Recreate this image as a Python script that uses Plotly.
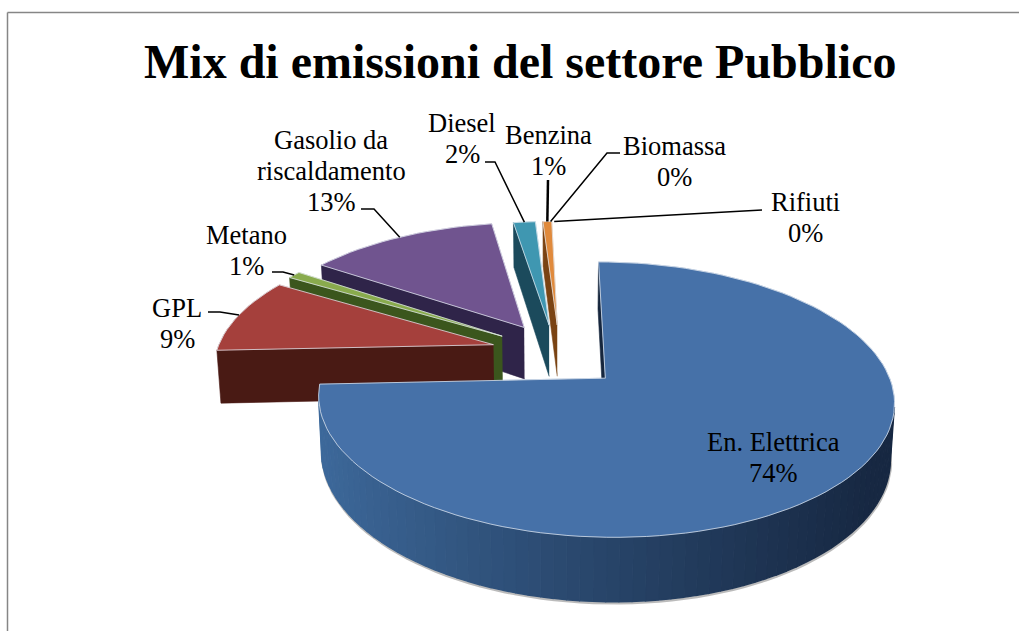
import numpy as np
import plotly.graph_objects as go

# ---- data ----
categories = [["En. Elettrica"], ["GPL"], ["Metano"], ["Gasolio da", "riscaldamento"],
              ["Diesel"], ["Benzina"], ["Biomassa"], ["Rifiuti"]]
values = [74.3, 9.3, 0.9, 13.0, 1.5, 0.6, 0.2, 0.2]
top_colors = ["#4671a8", "#a5403c", "#89ab4d", "#70548f", "#3f97b1", "#e08a3c", "#a5403c", "#4671a8"]
wall_colors = ["#2c4c75", "#491a14", "#3b561d", "#2f2449", "#1b4a5c", "#7a4313", "#491a14", "#2c4c75"]
explode = [0.245, 0.235, 0.235, 0.235, 0.235, 0.235, 0.235, 0.235]
nudge_x = [-1, 0, 0, 2, 0, 4, 0, 0]
nudge_y = [4, 0, 0, 0, 2, 2, 2, 2]
MIN_DRAWN = 0.5  # slices below this share are invisible in the chart

# label centres and leader elbows (layout, in page pixels)
label_pos = [(773, 457), (177, 323), (246, 250), (331, 171), (462, 138), (548, 150), (674, 161), (805, 217)]
leader_start = [None, (208, 312), (272, 272), (361, 209), (485, 162), (548, 180), (620, 153), (762, 210)]
leader_elbow = [None, (220, 312), (283, 272), (374, 209), (495, 162), None, (607, 153), None]
LINE_GAP = 31

# ---- projection ----
CX, CY, R, RS, K, H, TAPER = 556, 352, 277, 127.5, 0.152, 53, 0.012


def project(u, v, z=0.0):
    d = 1 + K * v
    return CX + R * u / d * (1 - TAPER * z), CY - (RS * v - H * z) / d


def area(xs, ys):
    return 0.5 * sum(xs[i] * ys[(i + 1) % len(xs)] - xs[(i + 1) % len(xs)] * ys[i] for i in range(len(xs)))


def mix(a, b, t):
    return "rgb(%d,%d,%d)" % tuple(a[i] + (b[i] - a[i]) * t for i in range(3))


fig = go.Figure()


def poly(xs, ys, color, line=None, width=1.4):
    fig.add_trace(go.Scatter(x=list(xs), y=list(ys), mode="lines", fill="toself", fillcolor=color,
                             line=dict(color=line or color, width=width), hoverinfo="skip", showlegend=False))


def polyline(xs, ys, color, width):
    fig.add_trace(go.Scatter(x=list(xs), y=list(ys), mode="lines", line=dict(color=color, width=width),
                             hoverinfo="skip", showlegend=False))


total = sum(values)
starts = np.cumsum([0] + values[:-1]) / total * 2 * np.pi
ends = np.cumsum(values) / total * 2 * np.pi
anchors = []
slices = []
for i, val in enumerate(values):
    a0, a1 = starts[i], ends[i]
    mid = (a0 + a1) / 2
    u0, v0 = explode[i] * np.sin(mid), explode[i] * np.cos(mid)
    ax_, ay_ = project(u0 + np.sin(mid), v0 + np.cos(mid))
    anchors.append((ax_ + nudge_x[i], ay_ + nudge_y[i]))
    slices.append((i, a0, a1, u0, v0))

# painter's order: small back slices first, large front slice last
order = [7, 6, 5, 4, 3, 2, 1, 0]
for i, a0, a1, u0, v0 in (slices[j] for j in order):
    if values[i] < MIN_DRAWN:
        continue
    n = max(2, int((a1 - a0) / (2 * np.pi) * 160))
    ang = np.linspace(a0, a1, n + 1)
    us = u0 + np.sin(ang)
    vs = v0 + np.cos(ang)
    nx, ny = nudge_x[i], nudge_y[i]
    tx, ty = project(us, vs)
    bx, by = project(us, vs, 1)
    ax, ay = project(u0, v0)
    apx, apy = project(u0, v0, 1)
    tx, bx, ax, apx = tx + nx, bx + nx, ax + nx, apx + nx
    ty, by, ay, apy = ty + ny, by + ny, ay + ny, apy + ny
    # soft shadow under the outer edge
    if i == 0:
        polyline(bx + 0.5, by + 1.5, "rgba(150,150,150,0.65)", 2.5)
    # radial walls, only those facing the viewer
    for k, (ex, ey, ebx, eby) in enumerate([(tx[0], ty[0], bx[0], by[0]), (tx[-1], ty[-1], bx[-1], by[-1])]):
        xs, ys = [ax, ex, ebx, apx], [ay, ey, eby, apy]
        s = area(xs, ys)
        if (k == 0 and s < 0) or (k == 1 and s > 0):
            poly(xs, ys, "#16263d" if i == 0 else wall_colors[i], width=0.6)
    # outer wall, quad by quad
    for j in range(n):
        xs = [tx[j], tx[j + 1], bx[j + 1], bx[j]]
        ys = [ty[j], ty[j + 1], by[j + 1], by[j]]
        if area(xs, ys) >= 0:
            continue
        if i == 0:
            t = np.clip((max(xs) - 320) / 560, 0, 1)
            col = mix((62, 106, 156), (23, 40, 66), t ** 0.9)
        else:
            col = wall_colors[i]
        poly(xs, ys, col)
    # top face
    poly([ax, *tx, ax], [ay, *ty, ay], top_colors[i], line=top_colors[i], width=0.5)
    polyline([ax, *tx, ax], [ay, *ty, ay], "rgba(225,232,240,0.75)", 1)

# leader lines
for i in range(len(values)):
    if leader_start[i] is None:
        continue
    pts = [leader_start[i]] + ([leader_elbow[i]] if leader_elbow[i] else []) + [anchors[i]]
    polyline([p[0] for p in pts], [p[1] for p in pts], "#000000", 2.5 if i == 5 else 1.5)

annotations = []
for lines, val, (lx, ly) in zip(categories, values, label_pos):
    rows = lines + [f"{val:.0f}%"]
    for r, row in enumerate(rows):
        annotations.append(dict(x=lx, y=ly + (r - (len(rows) - 1) / 2) * LINE_GAP, xref="x", yref="y", text=row,
                                showarrow=False, align="center", xanchor="center", yanchor="middle",
                                font=dict(family="Liberation Serif", size=26.5, color="#000000")))
annotations.append(dict(x=520, y=61, xref="x", yref="y", text="<b>Mix di emissioni del settore Pubblico</b>",
                        showarrow=False, xanchor="center", yanchor="middle",
                        font=dict(family="Liberation Serif", size=48, color="#000000")))

fig.update_layout(
    width=1019, height=631, margin=dict(l=0, r=0, t=0, b=0), autosize=False,
    paper_bgcolor="#ffffff", plot_bgcolor="#ffffff", showlegend=False,
    xaxis=dict(range=[0, 1019], visible=False, fixedrange=True),
    yaxis=dict(range=[631, 0], visible=False, fixedrange=True),
    annotations=annotations,
    shapes=[
        dict(type="line", xref="x", yref="y", x0=7.5, x1=7.5, y0=12.5, y1=631, line=dict(color="#868686", width=1.5)),
        dict(type="line", xref="x", yref="y", x0=7.5, x1=1019, y0=12.5, y1=12.5, line=dict(color="#868686", width=1.5)),
    ],
)
fig.write_html("out.html", config={"displayModeBar": False},
               post_script="document.body.style.margin='0';document.body.style.overflow='hidden';")
